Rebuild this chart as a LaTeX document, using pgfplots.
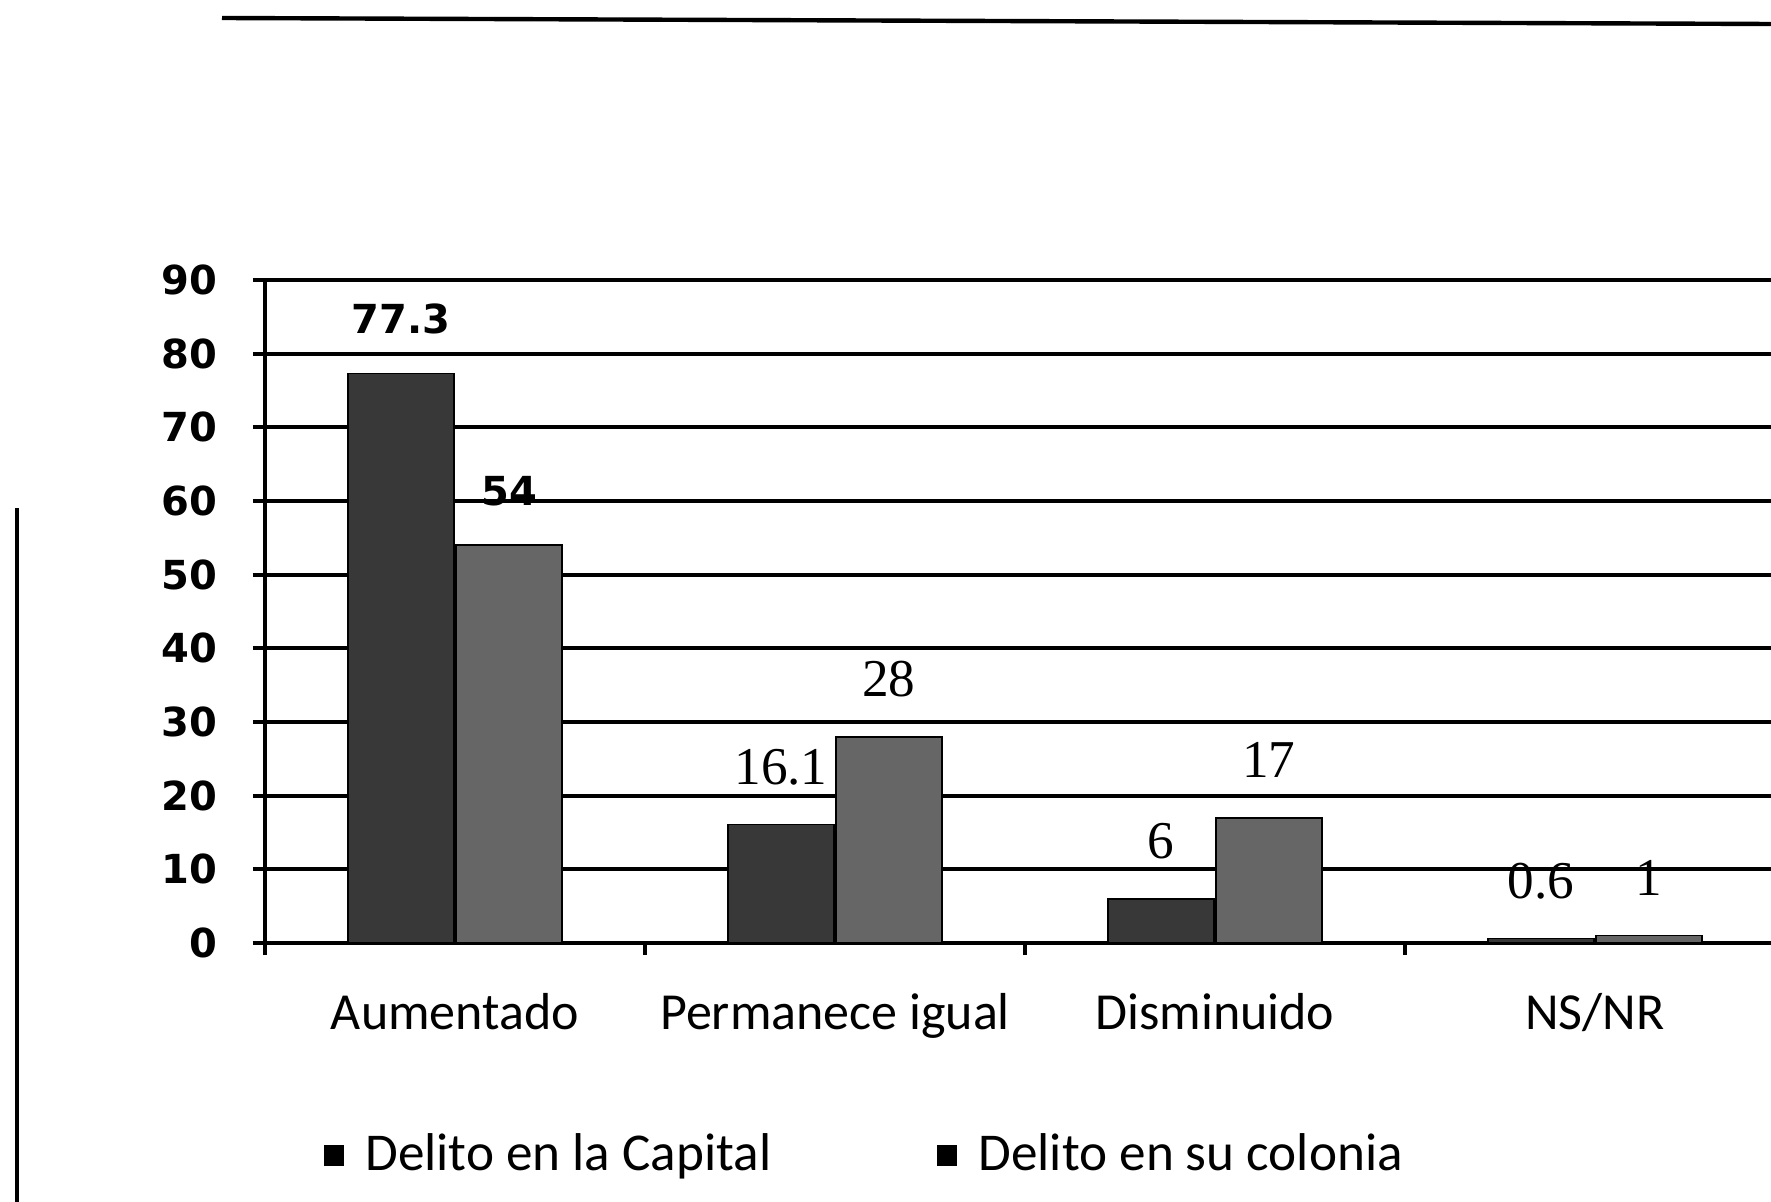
\documentclass[border=0pt]{standalone}
\usepackage{pgfplots}
\pgfplotsset{compat=1.18}
\usepackage{fontspec}
\setmainfont{Carlito}
\newfontfamily\dv{DejaVu Sans}
\newfontfamily\lser{Liberation Serif}

\definecolor{capital}{gray}{0.22}
\definecolor{colonia}{gray}{0.40}

% the two tall labels are set in a sans, the rest in a serif (as in the scan)
\newcommand\lblfont{%
  \ifdim\pgfplotspointmetatransformed pt>500pt
    \dv\bfseries\fontsize{10}{12}\selectfont
  \else
    \lser\fontsize{13.3}{15}\selectfont
  \fi}

\begin{document}
\begin{tikzpicture}
% page rules from the scan
\draw[line width=1.1pt] (55.5pt,296pt) -- (442.75pt,294.5pt);
\draw[line width=1.1pt] (4.25pt,0pt) -- (4.25pt,173.5pt);

\begin{axis}[
    scale only axis,
    width=380pt, height=165.75pt,
    at={(66.25pt,64.75pt)}, anchor=south west,
    xmin=-0.5, xmax=3.5,
    ymin=0, ymax=90,
    axis lines=left,
    axis line style={-, line width=1pt},
    ytick={0,10,...,90},
    ymajorgrids,
    grid style={black, line width=1pt},
    xtick={-0.5,0.5,1.5,2.5},
    xticklabels={Aumentado, Permanece igual, Disminuido, NS/NR},
    xticklabel style={font=\fontsize{13}{15}\selectfont, anchor=base, xshift=47.5pt, yshift=-18.6pt},
    yticklabel style={font=\dv\bfseries\fontsize{10}{12}\selectfont, anchor=east, inner sep=0pt, xshift=-8.8pt},
    /pgf/number format/assume math mode=true,
    tick align=outside,
    tick pos=left,
    major tick length=3pt,
    tick style={black, line width=1pt},
    ybar,
    bar width=26.5pt,
    point meta min=0, point meta max=90,
    nodes near coords,
    every node near coord/.append style={font=\lblfont, anchor=base, yshift=10pt, inner sep=0pt},
    legend columns=2,
    legend image code/.code={\fill[black] (0pt,-2.4pt) rectangle (4.6pt,2.4pt);},
    legend style={at={(0.0305,-0.32)}, anchor=west, draw=none, fill=none,
        font=\fontsize{13.3}{15}\selectfont,
        /tikz/every odd column/.append style={column sep=3.3pt},
        /tikz/every even column/.append style={column sep=39.5pt}},
]
\addplot[fill=capital, draw=black, bar shift=-13.5pt]
    coordinates {(0,77.3) (1,16.1) (2,6) (3,0.6)};
\addplot[fill=colonia, draw=black, bar shift=13.5pt]
    coordinates {(0,54) (1,28) (2,17) (3,1)};
\legend{Delito en la Capital, Delito en su colonia}
\end{axis}

\pgfresetboundingbox
\useasboundingbox (0pt,0pt) rectangle (442.75pt,300.5pt);
\end{tikzpicture}
\end{document}
